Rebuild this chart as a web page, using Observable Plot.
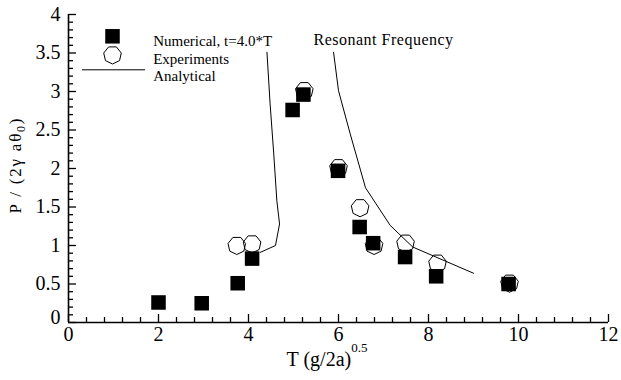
<!DOCTYPE html>
<html>
<head>
<meta charset="utf-8">
<script src="https://cdn.jsdelivr.net/npm/d3@7"></script>
<script src="https://cdn.jsdelivr.net/npm/@observablehq/plot@0.6"></script>
<style>
  html, body { margin: 0; padding: 0; background: white; }
  svg text { font-family: 'Liberation Serif', 'Times New Roman', serif; }
</style>
</head>
<body>
<div id="chart"></div>
<script>
// Numerical, t=4.0*T (filled squares)
const numT = [2.0, 2.96, 3.76, 4.08, 4.98, 5.22, 5.99, 6.47, 6.77, 7.48, 8.17, 9.78];
const numP = [0.26, 0.25, 0.51, 0.83, 2.76, 2.96, 1.97, 1.24, 1.03, 0.85, 0.60, 0.50];
// Experiments (hollow polygons)
const expT = [3.74, 4.08, 5.24, 6.0, 6.48, 6.79, 7.49, 8.2, 9.8];
const expP = [1.0, 1.02, 3.01, 2.01, 1.49, 1.0, 1.03, 0.77, 0.51];
// Analytical curve, two branches
const anaLeftT = [4.41, 4.48, 4.56, 4.63, 4.69, 4.6, 4.26];
const anaLeftP = [3.51, 2.84, 2.2, 1.58, 1.28, 1.0, 0.91];
const anaRightT = [5.89, 6.0, 6.26, 6.6, 7.15, 7.65, 9.0];
const anaRightP = [3.51, 3.01, 2.45, 1.75, 1.26, 0.98, 0.64];

const xTicks = [0, 2, 4, 6, 8, 10, 12];
const yTicks = [0, 0.5, 1, 1.5, 2, 2.5, 3, 3.5, 4];
const xLabel = ["T (g/2a)", "0.5"];
const yLabel = ["P / (2\u03B3 a\u03B8", "0", ")"];
const legendLabels = ["Numerical, t=4.0*T", "Experiments", "Analytical"];
const annotation = "Resonant Frequency";

const xMinor = d3.range(0, 12.0001, 0.4).filter(v => Math.abs(v / 2 - Math.round(v / 2)) > 1e-6);
const yMinor = d3.range(0, 4.0001, 0.1).filter(v => Math.abs(v / 0.5 - Math.round(v / 0.5)) > 1e-6);

const heptagon = {
  draw(context, size) {
    const r = Math.sqrt(size / Math.PI);
    for (let k = 0; k < 7; k++) {
      const a = Math.PI / 2 + 2 * Math.PI * k / 7;
      const px = r * Math.cos(a), py = r * Math.sin(a);
      if (k === 0) context.moveTo(px, py); else context.lineTo(px, py);
    }
    context.closePath();
  }
};

const font = "'Liberation Serif', 'Times New Roman', serif";

const svg = Plot.plot({
  width: 621,
  height: 380,
  marginLeft: 68,
  marginRight: 13,
  marginTop: 14,
  marginBottom: 58,
  style: { fontFamily: font, background: "white", color: "black" },
  x: { domain: [0, 12] },
  y: { domain: [0, 4] },
  marks: [
    // axis lines
    Plot.ruleX([0], { stroke: "black", strokeWidth: 1.6 }),
    Plot.ruleY([0], { stroke: "black", strokeWidth: 1.6 }),
    // inward ticks
    Plot.ruleX(xTicks, { y1: 0, y2: 0, insetBottom: 8, stroke: "black", strokeWidth: 1.3 }),
    Plot.ruleX(xMinor, { y1: 0, y2: 0, insetBottom: 5, stroke: "black", strokeWidth: 1.3 }),
    Plot.ruleY(yTicks, { x1: 0, x2: 0, insetLeft: 8, stroke: "black", strokeWidth: 1.3 }),
    Plot.ruleY(yMinor, { x1: 0, x2: 0, insetLeft: 5, stroke: "black", strokeWidth: 1.3 }),
    // tick labels
    Plot.axisX(xTicks, { tickSize: 0, tickPadding: 4, fontSize: 20, fontFamily: font, fontVariant: "normal", label: null, tickFormat: String }),
    Plot.axisY(yTicks.filter(v => v !== 0), { tickSize: 0, tickPadding: 8, fontSize: 20, fontFamily: font, fontVariant: "normal", label: null, tickFormat: String }),
    Plot.axisY([0], { tickSize: 0, tickPadding: 8, fontSize: 20, fontFamily: font, fontVariant: "normal", label: null, tickFormat: String, dy: -5 }),
    // axis titles
    Plot.text([xLabel[0]], { x: null, y: null, frameAnchor: "bottom", dx: -11.5, dy: 43.6, fontSize: 20, fontFamily: font }),
    Plot.text([yLabel[0]], { x: null, y: null, frameAnchor: "left", rotate: -90, textAnchor: "start", dx: -52.5, dy: 45, fontSize: 17, fontFamily: font }),
    // data
    Plot.dot(expT, { x: expT, y: expP, symbol: heptagon, r: 9, fill: "none", stroke: "black", strokeWidth: 1 }),
    Plot.dot(numT, { x: numT, y: numP, symbol: "square", r: 8.2, fill: "black", stroke: "none" }),
    Plot.line(anaLeftT, { x: anaLeftT, y: anaLeftP, stroke: "black", strokeWidth: 1 }),
    Plot.line(anaRightT, { x: anaRightT, y: anaRightP, stroke: "black", strokeWidth: 1 }),
    // annotation
    Plot.text([annotation], { x: null, y: null, frameAnchor: "top-left", textAnchor: "start", dx: 245, dy: 19.2, fontSize: 16, fontFamily: font }),
    // legend
    Plot.dot([legendLabels[0]], { x: null, y: null, frameAnchor: "top-left", dx: 44, dy: 21.8, symbol: "square", r: 8.2, fill: "black", stroke: "none" }),
    Plot.dot([legendLabels[1]], { x: null, y: null, frameAnchor: "top-left", dx: 44, dy: 40.5, symbol: heptagon, r: 9, fill: "none", stroke: "black", strokeWidth: 1 }),
    Plot.ruleY([legendLabels[2]], { y: null, dy: -98.7, insetLeft: 14, insetRight: 463, stroke: "black", strokeWidth: 1 }),
    ...legendLabels.map((s, i) => Plot.text([s], { x: null, y: null, frameAnchor: "top-left", textAnchor: "start", dx: 84.7, dy: 21.2 + 17.5 * i, fontSize: 15, fontFamily: font }))
  ]
});

const sel = d3.select(svg);
function findText(str) {
  return sel.selectAll("text").filter(function () { return this.textContent === str; });
}
let yNode = null;
findText(xLabel[0]).each(function () {
  d3.select(this).append("tspan").attr("dy", -14).attr("font-size", 13).text(xLabel[1]);
});
findText(yLabel[0]).each(function () {
  yNode = this;
  const t = d3.select(this);
  t.append("tspan").attr("dy", 4).attr("font-size", 12).text(yLabel[1]);
  t.append("tspan").attr("dy", -4).attr("font-size", 17).text(yLabel[2]);
});
findText(annotation).attr("letter-spacing", 0.5);

document.getElementById("chart").appendChild(svg);

// stretch the rotated y title to the reference's length (about 95 px)
if (yNode) {
  const L = yNode.getComputedTextLength();
  const n = yNode.textContent.length;
  if (L < 95 && n > 1) d3.select(yNode).attr("letter-spacing", ((95 - L) / (n - 1)).toFixed(2));
}
</script>
</body>
</html>
